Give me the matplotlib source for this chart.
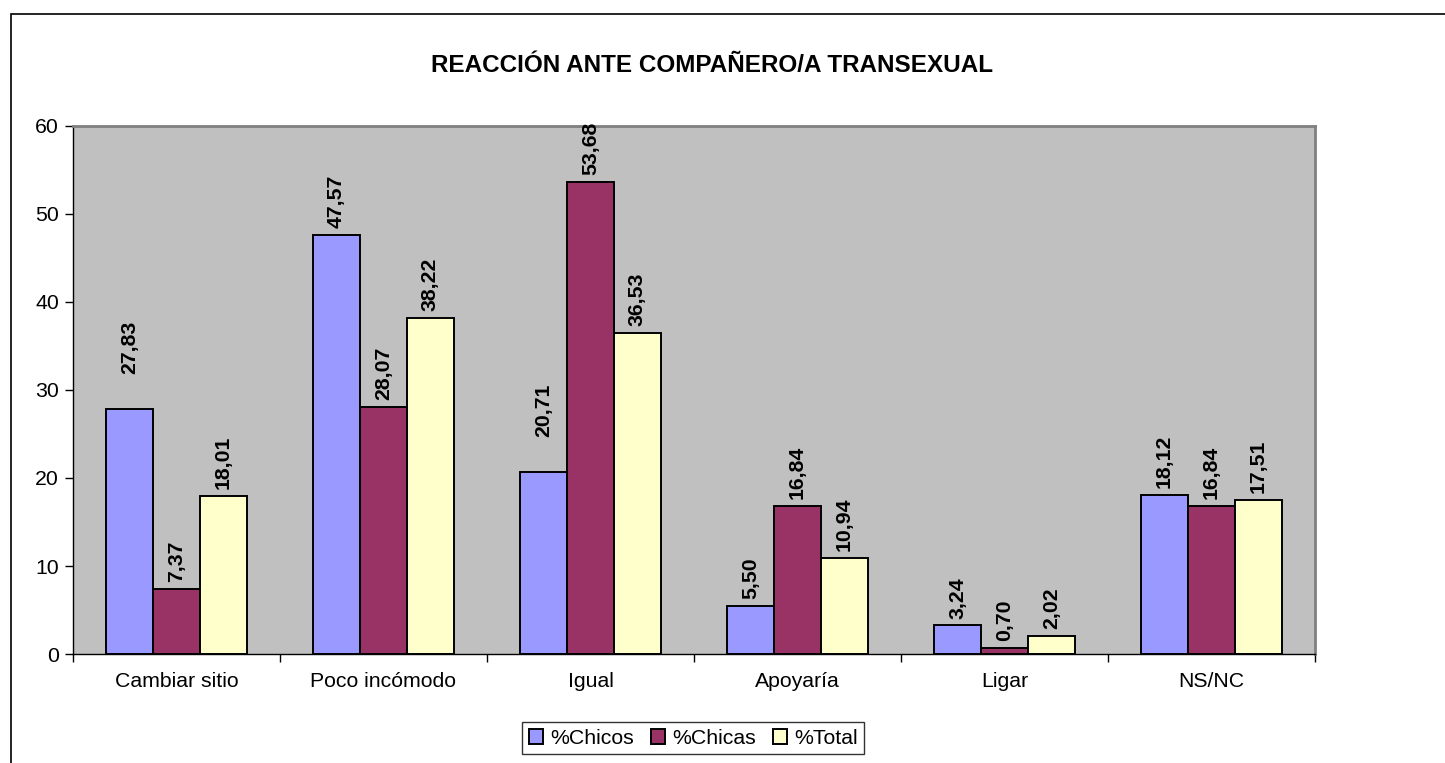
import matplotlib.pyplot as plt
import matplotlib.patches as mpatches
import numpy as np

# Datos del grafico
categorias = ['Cambiar sitio', 'Poco incómodo', 'Igual', 'Apoyaría', 'Ligar', 'NS/NC']
chicos = [27.83, 47.57, 20.71, 5.50, 3.24, 18.12]
chicas = [7.37, 28.07, 53.68, 16.84, 0.70, 16.84]
total = [18.01, 38.22, 36.53, 10.94, 2.02, 17.51]
series = ['%Chicos', '%Chicas', '%Total']

# separacion extra (en puntos) de algunas etiquetas, como en el original
extra_chicos = [20, 0, 20, 0, 0, 0]
extra_chicas = [0, 0, 0, 0, 0, 0]
extra_total = [0, 0, 0, 0, 0, 0]

colores = ['#9999FF', '#993366', '#FFFFCC']

plt.rcParams['font.family'] = ['Liberation Sans', 'DejaVu Sans']

fig = plt.figure(figsize=(14.45, 7.63), dpi=100)
ax = fig.add_axes([73/1445, 1 - 654/763, (1315 - 73)/1445, (654 - 126)/763])
ax.set_facecolor('#C0C0C0')

# marco de la figura
fig.patches.append(mpatches.Rectangle((11/1445, -0.2), 1.2, 1.2 - 14/763,
                                      transform=fig.transFigure, fill=False,
                                      edgecolor='black', linewidth=1.2))

x = np.arange(len(categorias))
w = 0.227
for k, (vals, extra) in enumerate(zip([chicos, chicas, total],
                                      [extra_chicos, extra_chicas, extra_total])):
    pos = x + (k - 1) * w
    ax.bar(pos, vals, width=w, color=colores[k], edgecolor='black',
           linewidth=1.4, label=series[k], zorder=2)
    for p, v, e in zip(pos, vals, extra):
        ax.annotate(f'{v:.2f}'.replace('.', ','), (p, v), xytext=(0, 5 + e),
                    textcoords='offset points', rotation=90, ha='center',
                    va='bottom', fontsize=15.3, fontweight='bold')

ax.set_xlim(-0.5, len(categorias) - 0.5)
ax.set_ylim(0, 60)
ax.set_yticks(range(0, 61, 10))
ax.set_xticks(x)
ax.set_xticklabels(categorias, fontsize=15.3)
ax.set_xticks(np.arange(-0.5, len(categorias)), minor=True)
ax.tick_params(axis='x', which='major', length=0, pad=13)
ax.tick_params(axis='x', which='minor', length=6, width=1, direction='out')
ax.tick_params(axis='y', length=6, width=1, labelsize=15.3, pad=4)

for s in ['top', 'right']:
    ax.spines[s].set_color('#808080')
    ax.spines[s].set_linewidth(2)
for s in ['left', 'bottom']:
    ax.spines[s].set_color('black')
    ax.spines[s].set_linewidth(1)

fig.text(712/1445, 1 - 66/763, 'REACCIÓN ANTE COMPAÑERO/A TRANSEXUAL',
         ha='center', va='center', fontsize=17.5, fontweight='bold')

leg = fig.legend(loc='center', bbox_to_anchor=(693/1445, 1 - 738/763), ncol=3,
                 fontsize=15.3, frameon=True, fancybox=False, edgecolor='black',
                 handlelength=0.7, handleheight=0.7, handletextpad=0.3,
                 columnspacing=0.8, borderpad=0.3, borderaxespad=0)
leg.get_frame().set_linewidth(1)

fig.savefig('out.png', dpi=100)
